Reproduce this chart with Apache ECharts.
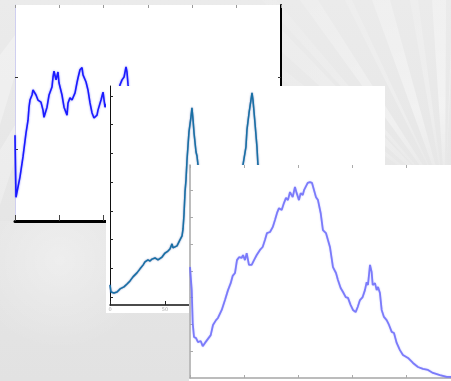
<!DOCTYPE html>
<html>
<head>
<meta charset="utf-8">
<script src="https://cdn.jsdelivr.net/npm/echarts@6/dist/echarts.min.js"></script>
<style>
  html, body { margin: 0; padding: 0; background: #e6e6e6; }
  #chart { width: 451px; height: 381px; }
</style>
</head>
<body>
<div id="chart"></div>
<script>
// Back panel: noisy trace that climbs quickly and then wanders around a plateau
const traceA = [
  [0, 1.19], [1.1, 0.33], [5.6, 0.61], [9.0, 0.89], [12.4, 1.22], [14.7, 1.40],
  [15.8, 1.58], [16.9, 1.68], [19.2, 1.75], [20.3, 1.82], [23.7, 1.75], [25.9, 1.68],
  [29.3, 1.65], [31.6, 1.54], [32.7, 1.44], [36.1, 1.58], [38.4, 1.75], [41.7, 1.86],
  [42.9, 2.00], [44.0, 2.08], [46.3, 1.96], [48.5, 2.07], [49.6, 1.92], [53.0, 1.75],
  [55.3, 1.58], [58.7, 1.47], [59.8, 1.64], [62.0, 1.71], [64.3, 1.68], [67.7, 1.78],
  [69.9, 1.92], [71.1, 1.99], [73.3, 2.10], [75.6, 2.13], [76.7, 2.03], [80.1, 1.93],
  [82.3, 1.82], [84.6, 1.64], [86.9, 1.50], [89.1, 1.43], [92.5, 1.47], [93.6, 1.54],
  [97.0, 1.68], [99.3, 1.79], [101.5, 1.58], [104.0, 1.64],
  [null, null],
  [116.2, 1.70], [118.4, 1.89], [120.7, 1.96], [123.0, 2.00], [125.2, 2.14],
  [126.3, 2.07], [127.5, 1.89], [129.7, 1.68]
];

// Middle panel: slow rise followed by two sharp peaks
const traceB = [
  [0, 0.42], [0.9, 0.17], [3.6, 0.14], [6.4, 0.17], [9.1, 0.28], [12.7, 0.35],
  [15.5, 0.45], [18.2, 0.56], [20.9, 0.70], [24.5, 0.84], [27.3, 0.98], [30.0, 1.11],
  [31.8, 1.22], [34.5, 1.29], [36.4, 1.25], [38.2, 1.32], [40.9, 1.36], [43.6, 1.29],
  [47.3, 1.39], [50.0, 1.53], [52.7, 1.60], [54.5, 1.67], [56.4, 1.85], [57.3, 1.71],
  [60.9, 1.78], [63.6, 1.99], [65.5, 2.13], [66.4, 2.37], [67.3, 2.89], [68.2, 3.66],
  [69.1, 4.08], [70.0, 4.77], [71.8, 5.75], [73.6, 6.27], [74.5, 6.59], [75.5, 6.17],
  [76.4, 5.71], [78.2, 5.05], [79.1, 4.91], [80.0, 4.60], [80.9, 4.25],
  [null, null],
  [120.0, 4.25], [120.9, 4.60], [123.6, 5.23], [124.5, 5.82], [126.4, 6.41],
  [129.1, 7.11], [130.0, 6.86], [131.8, 6.06], [133.6, 5.23], [134.5, 4.60], [135.5, 4.25]
];

// Front panel: broad hump with a smaller shoulder peak and a long tail
const traceC = [
  [0, 4.14], [1.6, 3.28], [2.5, 2.05], [3.7, 1.53], [5.6, 1.49], [7.4, 1.34],
  [9.9, 1.38], [11.8, 1.19], [13.9, 1.31], [15.7, 1.38], [19.2, 1.60], [21.3, 1.98],
  [24.1, 2.16], [25.9, 2.24], [29.4, 2.54], [32.4, 2.91], [35.2, 3.28], [37.7, 3.54],
  [39.5, 3.81], [41.7, 3.92], [43.5, 4.40], [45.4, 4.51], [47.9, 4.48], [49.1, 4.59],
  [50.9, 4.40], [52.5, 4.66], [54.6, 4.22], [57.1, 4.22], [59.3, 4.40], [61.8, 4.59],
  [64.8, 4.78], [67.3, 4.89], [69.4, 5.15], [71.3, 5.41], [74.1, 5.45], [76.6, 5.63],
  [78.7, 5.90], [80.6, 6.16], [82.4, 6.34], [84.9, 6.27], [87.0, 6.53], [88.9, 6.72],
  [90.7, 6.64], [92.6, 6.94], [95.1, 6.75], [97.2, 7.13], [98.8, 6.90], [100.9, 6.64],
  [102.5, 6.90], [104.4, 6.83], [105.6, 7.01], [107.4, 6.94], [109.0, 7.28], [111.1, 7.31],
  [113.0, 7.28], [114.8, 7.28], [116.7, 6.75], [118.5, 6.64], [121.0, 6.16], [123.1, 5.52],
  [125.9, 5.41], [127.5, 5.34], [129.6, 4.89], [132.4, 4.14], [135.2, 3.92], [137.0, 3.66],
  [139.5, 3.36], [141.7, 3.21], [144.2, 3.02], [146.3, 2.99], [148.8, 2.72], [150.9, 2.54],
  [153.4, 2.46], [155.3, 2.65], [157.4, 2.91], [159.9, 3.02], [162.0, 3.28], [163.6, 3.58],
  [164.8, 3.47], [166.7, 4.22], [168.2, 3.96], [169.2, 3.47], [171.3, 3.54], [172.9, 3.28],
  [174.1, 3.40], [175.9, 3.17], [177.5, 2.54], [179.6, 2.28], [182.1, 2.16], [184.3, 1.98],
  [186.8, 1.72], [188.9, 1.68], [191.4, 1.31], [194.4, 1.04], [197.2, 0.86], [201.9, 0.75],
  [206.5, 0.56], [211.1, 0.41], [215.7, 0.34], [220.4, 0.30], [225.0, 0.19], [231.5, 0.11],
  [237.7, 0.04], [241.7, 0.04]
];

// Tick positions
const ticksA = { y: [1, 2] };
const ticksB = { y: [0, 1, 2, 3, 4, 5, 6, 7], labels: [0, 50] };
const ticksC = { y: [1, 2, 3, 4, 5, 6, 7] };

const chart = echarts.init(document.getElementById('chart'), null, { renderer: 'canvas' });

// soft light rays fanning out behind the panels
const cx = 445, cy = 200;
const rayTargets = [
  [[262, 0], [276, 0], 0.22], [[300, 0], [318, 0], 0.35], [[345, 0], [352, 0], 0.25],
  [[372, 0], [390, 0], 0.4], [[410, 0], [418, 0], 0.25], [[432, 0], [446, 0], 0.45],
  [[282, 30], [282, 52], 0.25], [[282, 68], [282, 80], 0.2], [[451, 40], [451, 70], 0.25]
];
const rays = rayTargets.map(t => ({
  type: 'polygon',
  z: 0,
  silent: true,
  shape: { points: [[cx, cy], t[0], t[1]] },
  style: {
    fill: {
      type: 'radial', x: cx, y: cy, r: 260, global: true,
      colorStops: [
        { offset: 0, color: 'rgba(255,255,255,0)' },
        { offset: 0.35, color: 'rgba(255,255,255,' + t[2] + ')' },
        { offset: 1, color: 'rgba(255,255,255,' + (t[2] * 0.4).toFixed(2) + ')' }
      ]
    }
  }
}));

const panel = (x, y, w, h, z) => ({
  type: 'rect', z: z, silent: true,
  shape: { x: x, y: y, width: w, height: h },
  style: { fill: '#ffffff' }
});

const hidden = { show: false };

const option = {
  animation: false,
  backgroundColor: {
    type: 'linear', x: 0, y: 0, x2: 0, y2: 1,
    colorStops: [
      { offset: 0, color: '#ebebeb' },
      { offset: 1, color: '#e2e2e2' }
    ]
  },
  graphic: [
    {
      type: 'polygon', z: 0, silent: true,
      shape: { points: [[0, 55], [15, 35], [15, 75], [0, 125]] },
      style: { fill: 'rgba(255,255,255,0.3)' }
    },
    {
      type: 'polygon', z: 0, silent: true,
      shape: { points: [[0, 150], [15, 125], [15, 160], [0, 205]] },
      style: { fill: 'rgba(255,255,255,0.25)' }
    },
    {
      type: 'rect', z: 0, silent: true,
      shape: { x: 0, y: 221, width: 189, height: 160 },
      style: {
        fill: {
          type: 'radial', x: 60, y: 260, r: 90, global: true,
          colorStops: [
            { offset: 0, color: 'rgba(255,255,255,0.35)' },
            { offset: 1, color: 'rgba(255,255,255,0)' }
          ]
        }
      }
    }
  ].concat(rays, [
    panel(15, 5, 266, 218, 1),
    panel(106, 86, 279, 227, 3),
    panel(189, 165, 262, 216, 5)
  ]),
  grid: [
    { left: 15, right: 170, top: 5, bottom: 160, z: 2 },
    { left: 110, right: 66, top: 86, bottom: 76, z: 4 },
    { left: 190, right: 0, top: 165, bottom: 3, z: 6 }
  ],
  xAxis: [
    {
      gridIndex: 0, type: 'value', min: 0, max: 300, interval: 50, z: 2,
      axisLine: { onZero: false, lineStyle: { color: '#000', width: 3 } },
      axisTick: { inside: true, length: 6, lineStyle: { color: '#444', width: 1 } },
      axisLabel: hidden, splitLine: hidden
    },
    {
      gridIndex: 0, type: 'value', position: 'top', min: 0, max: 300, interval: 50, z: 2,
      axisLine: { show: false, onZero: false },
      axisTick: { inside: true, length: 3, lineStyle: { color: '#999', width: 1 } },
      axisLabel: hidden, splitLine: hidden
    },
    {
      gridIndex: 1, type: 'value', min: 0, max: 250, interval: 50, z: 4,
      axisLine: { onZero: false, lineStyle: { color: '#111', width: 1.5 } },
      axisTick: { inside: true, length: 4, lineStyle: { color: '#222', width: 1 } },
      axisLabel: {
        show: true, fontSize: 5, color: '#aaa', margin: 2,
        customValues: ticksB.labels, fontFamily: 'DejaVu Sans'
      },
      splitLine: hidden
    },
    {
      gridIndex: 2, type: 'value', min: 0, max: 241.7, interval: 50, z: 6,
      axisLine: { onZero: false, lineStyle: { color: '#a6a6a6', width: 1.5 } },
      axisTick: { inside: true, length: 3, lineStyle: { color: '#aaa', width: 1 } },
      axisLabel: hidden, splitLine: hidden
    },
    {
      gridIndex: 2, type: 'value', position: 'top', min: 0, max: 241.7, interval: 50, z: 6,
      axisLine: { show: false, onZero: false },
      axisTick: { inside: true, length: 3, lineStyle: { color: '#aaa', width: 1 } },
      axisLabel: hidden, splitLine: hidden
    }
  ],
  yAxis: [
    {
      gridIndex: 0, type: 'value', min: 0, max: 3, z: 2,
      axisLine: { onZero: false, lineStyle: { color: '#cfcff0', width: 1 } },
      axisTick: { inside: true, length: 3, customValues: ticksA.y, lineStyle: { color: '#333', width: 1 } },
      axisLabel: hidden, splitLine: hidden
    },
    {
      gridIndex: 0, type: 'value', position: 'right', min: 0, max: 3, z: 2,
      axisLine: { onZero: false, lineStyle: { color: '#000', width: 2 } },
      axisTick: { inside: true, length: 3, customValues: ticksA.y, lineStyle: { color: '#333', width: 1 } },
      axisLabel: hidden, splitLine: hidden
    },
    {
      gridIndex: 1, type: 'value', min: -0.28, max: 7.35, z: 4,
      axisLine: { onZero: false, lineStyle: { color: '#111', width: 1 } },
      axisTick: { inside: true, length: 3, customValues: ticksB.y, lineStyle: { color: '#222', width: 1 } },
      axisLabel: hidden, splitLine: hidden
    },
    {
      gridIndex: 2, type: 'value', min: 0, max: 7.95, z: 6,
      axisLine: { onZero: false, lineStyle: { color: '#a6a6a6', width: 1.5 } },
      axisTick: { inside: true, length: 3, customValues: ticksC.y, lineStyle: { color: '#aaa', width: 1 } },
      axisLabel: hidden, splitLine: hidden
    }
  ],
  series: [
    {
      type: 'line', xAxisIndex: 0, yAxisIndex: 0, z: 2, data: traceA,
      symbol: 'none', connectNulls: false,
      lineStyle: { color: '#1a1aff', width: 1.6, shadowColor: 'rgba(40,40,255,0.6)', shadowBlur: 2 }
    },
    {
      type: 'line', xAxisIndex: 2, yAxisIndex: 2, z: 4, data: traceB,
      symbol: 'none', connectNulls: false,
      lineStyle: { color: '#1870a4', width: 1.5, shadowColor: 'rgba(10,50,140,0.7)', shadowBlur: 1.5 }
    },
    {
      type: 'line', xAxisIndex: 3, yAxisIndex: 3, z: 6, data: traceC,
      symbol: 'none',
      lineStyle: { color: '#7272fa', width: 1.8, opacity: 0.9, shadowColor: 'rgba(110,110,255,0.5)', shadowBlur: 1.5 }
    }
  ]
};

chart.setOption(option);
</script>
</body>
</html>
